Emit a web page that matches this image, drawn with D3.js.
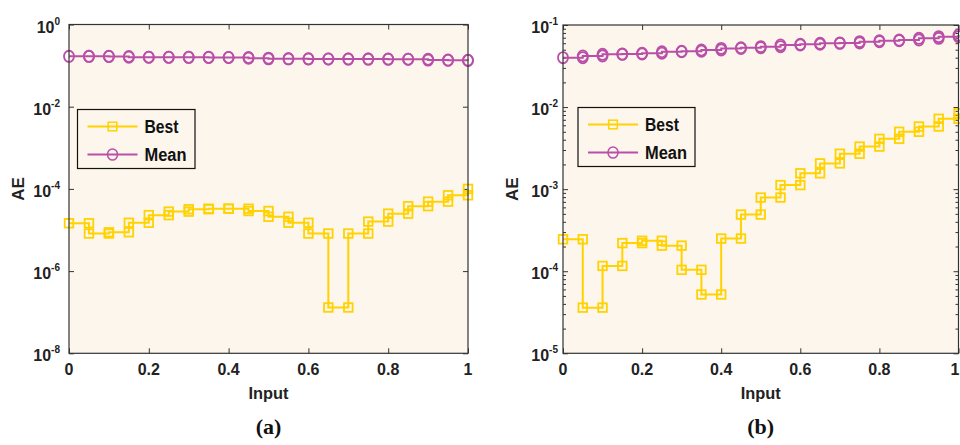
<!DOCTYPE html>
<html><head><meta charset="utf-8">
<script src="https://cdn.jsdelivr.net/npm/d3@7/dist/d3.min.js"></script>
<style>
html,body{margin:0;padding:0;background:#fff;}
svg{display:block;}
</style></head>
<body>
<svg id="chart" width="960" height="445"></svg>
<script>
// ---------- data ----------
const inputX = [0,0.05,0.1,0.15,0.2,0.25,0.3,0.35,0.4,0.45,0.5,0.55,0.6,0.65,0.7,0.75,0.8,0.85,0.9,0.95,1];
const bestA = [1.46e-5,8.2e-6,8.8e-6,1.5e-5,2.3e-5,2.8e-5,3.2e-5,3.3e-5,3.3e-5,2.9e-5,2.1e-5,1.5e-5,8.2e-6,1.3e-7,8.2e-6,1.6e-5,2.5e-5,3.8e-5,4.9e-5,7.0e-5,1.0e-4];
const meanA = [0.168,0.168,0.167,0.160,0.160,0.159,0.159,0.158,0.158,0.152,0.146,0.146,0.145,0.145,0.144,0.144,0.143,0.143,0.136,0.135,0.133];
const bestB = [2.45e-4,3.6e-5,1.16e-4,2.2e-4,2.35e-4,2.05e-4,1.04e-4,5.2e-5,2.5e-4,4.9e-4,7.9e-4,1.12e-3,1.56e-3,2.06e-3,2.7e-3,3.3e-3,4.1e-3,5.0e-3,5.8e-3,7.2e-3,8.4e-3];
const meanB = [0.0400,0.0419,0.0439,0.0443,0.0452,0.0473,0.0478,0.0496,0.0519,0.0529,0.0545,0.0571,0.0582,0.0598,0.0605,0.0627,0.0644,0.0656,0.0688,0.0721,0.0755];
const xTicks = [0,0.2,0.4,0.6,0.8,1];
const xTickLabels = ["0","0.2","0.4","0.6","0.8","1"];
const yTicksA = [1,1e-2,1e-4,1e-6,1e-8];
const yExpA = ["0","-2","-4","-6","-8"];
const yTicksB = [1e-1,1e-2,1e-3,1e-4,1e-5];
const yExpB = ["-1","-2","-3","-4","-5"];
const seriesNames = ["Best","Mean"];
const panelLabels = ["(a)","(b)"];

// ---------- style ----------
const C_BEST = "#FFD200", C_MEAN = "#B94FA9", BG = "#FDF6EC", FRAME = "#333";
const NARROW = "'Liberation Sans Narrow','Arial Narrow',sans-serif";
const SANS = "'Liberation Sans',Arial,sans-serif";
const SERIF = "'Liberation Serif','Times New Roman',serif";

const svg = d3.select("#chart");

function stepPts(xs, ys){
  const pts = [];
  xs.forEach((x,i)=>{
    if(i>0) pts.push([x, ys[i-1]]);
    pts.push([x, ys[i]]);
  });
  return pts;
}

function panel(cfg){
  const g = svg.append("g");
  const x = d3.scaleLinear().domain([0,1]).range([cfg.left, cfg.right]);
  const y = d3.scaleLog().domain(cfg.yDomain).range([cfg.bottom, cfg.top]);

  g.append("rect").attr("x",cfg.left).attr("y",cfg.top)
    .attr("width",cfg.right-cfg.left).attr("height",cfg.bottom-cfg.top)
    .attr("fill",BG);

  const styleAxis = sel => { sel.select(".domain").remove(); sel.selectAll("line").attr("stroke",FRAME).attr("stroke-width",1); sel.selectAll("text").remove(); };
  g.append("g").attr("transform",`translate(0,${cfg.bottom})`)
    .call(d3.axisBottom(x).tickValues(xTicks).tickSize(-5).tickFormat("")).call(styleAxis);
  g.append("g").attr("transform",`translate(0,${cfg.top})`)
    .call(d3.axisTop(x).tickValues(xTicks).tickSize(-5).tickFormat("")).call(styleAxis);
  g.append("g").attr("transform",`translate(${cfg.left},0)`)
    .call(d3.axisLeft(y).tickValues(cfg.yTicks).tickSize(-5).tickFormat("")).call(styleAxis);
  g.append("g").attr("transform",`translate(${cfg.right},0)`)
    .call(d3.axisRight(y).tickValues(cfg.yTicks).tickSize(-5).tickFormat("")).call(styleAxis);
  if(cfg.minor){
    const minors = y.ticks().filter(v => !cfg.yTicks.some(t => Math.abs(Math.log10(v)-Math.log10(t))<1e-6));
    g.append("g").attr("transform",`translate(${cfg.left},0)`)
      .call(d3.axisLeft(y).tickValues(minors).tickSize(-3).tickFormat("")).call(styleAxis);
    g.append("g").attr("transform",`translate(${cfg.right},0)`)
      .call(d3.axisRight(y).tickValues(minors).tickSize(-3).tickFormat("")).call(styleAxis);
  }

  // tick labels
  g.selectAll(".xl").data(xTicks).join("text")
    .attr("x",d=>Math.min(x(d), 955)).attr("y",cfg.bottom+22).attr("text-anchor","middle")
    .attr("font-family",SANS).attr("font-weight","bold").attr("font-size",16).attr("fill","#222")
    .text((d,i)=>xTickLabels[i]);
  const yl = g.selectAll(".yl").data(cfg.yTicks).join("text")
    .attr("x",cfg.left-cfg.labGap).attr("y",d=>y(d)+8).attr("text-anchor","end")
    .attr("font-family",SANS).attr("font-weight","bold").attr("font-size",16).attr("fill","#222");
  yl.append("tspan").text("10");
  yl.append("tspan").attr("dy",-8).attr("font-size",10).text((d,i)=>cfg.yExp[i]);

  // axis titles
  g.append("text").attr("x",(cfg.left+cfg.right)/2).attr("y",cfg.bottom+46).attr("text-anchor","middle")
    .attr("font-family",NARROW).attr("font-weight","bold").attr("font-size",17).attr("fill","#222")
    .attr("textLength",40).attr("lengthAdjust","spacingAndGlyphs").text("Input");
  g.append("text").attr("transform",`translate(${cfg.aeX},${(cfg.top+cfg.bottom)/2}) rotate(-90)`)
    .attr("text-anchor","middle").attr("font-family",NARROW).attr("font-weight","bold").attr("font-size",17)
    .attr("fill","#222").text("AE");
  g.append("text").attr("x",(cfg.left+cfg.right)/2).attr("y",434).attr("text-anchor","middle")
    .attr("font-family",SERIF).attr("font-weight","bold").attr("font-size",22).attr("fill","#111").text(cfg.label);

  // series
  const line = d3.line().x(d=>x(d[0])).y(d=>y(d[1]));
  const sg = g.append("g");
  const meanPts = stepPts(inputX, cfg.mean);
  const bestPts = stepPts(inputX, cfg.best);
  sg.append("path").datum(meanPts).attr("d",line).attr("fill","none").attr("stroke",C_MEAN).attr("stroke-width",2);
  sg.selectAll(".mc").data(meanPts).join("ellipse")
    .attr("cx",d=>x(d[0])).attr("cy",d=>y(d[1])).attr("rx",5).attr("ry",5.6)
    .attr("fill","none").attr("stroke",C_MEAN).attr("stroke-width",1.8);
  sg.append("path").datum(bestPts).attr("d",line).attr("fill","none").attr("stroke",C_BEST).attr("stroke-width",2);
  sg.selectAll(".bs").data(bestPts).join("rect")
    .attr("x",d=>x(d[0])-4.3).attr("y",d=>y(d[1])-4.3).attr("width",8.6).attr("height",8.6)
    .attr("fill","none").attr("stroke",C_BEST).attr("stroke-width",1.8);

  // frame
  g.append("rect").attr("x",cfg.left).attr("y",cfg.top)
    .attr("width",cfg.right-cfg.left).attr("height",cfg.bottom-cfg.top)
    .attr("fill","none").attr("stroke",FRAME).attr("stroke-width",1.2);

  // legend
  const L = cfg.legend;
  const lg = g.append("g");
  lg.append("rect").attr("x",L.x).attr("y",L.y).attr("width",L.w).attr("height",L.h)
    .attr("fill",BG).attr("stroke","#111").attr("stroke-width",1.2);
  const rows = [{name:seriesNames[0],c:C_BEST,m:"sq",dy:17,tl:34},{name:seriesNames[1],c:C_MEAN,m:"ci",dy:45,tl:42}];
  rows.forEach(r=>{
    const yy = L.y + r.dy;
    lg.append("line").attr("x1",L.x+10).attr("x2",L.x+60).attr("y1",yy).attr("y2",yy)
      .attr("stroke",r.c).attr("stroke-width",2);
    if(r.m==="sq") lg.append("rect").attr("x",L.x+35-4.3).attr("y",yy-4.3).attr("width",8.6).attr("height",8.6)
      .attr("fill","none").attr("stroke",r.c).attr("stroke-width",1.5);
    else lg.append("ellipse").attr("cx",L.x+35).attr("cy",yy).attr("rx",5).attr("ry",5.6)
      .attr("fill","none").attr("stroke",r.c).attr("stroke-width",1.5);
    lg.append("text").attr("x",L.x+67).attr("y",yy+6).attr("font-family",NARROW).attr("font-weight","bold")
      .attr("font-size",18).attr("fill","#111").attr("textLength",r.tl).attr("lengthAdjust","spacingAndGlyphs").text(r.name);
  });
}

panel({left:69,right:468,top:24.5,bottom:353.3,yDomain:[1e-8,1],yTicks:yTicksA,yExp:yExpA,
  best:bestA,mean:meanA,label:panelLabels[0],aeX:24,labGap:9,minor:false,
  legend:{x:77.5,y:109.5,w:117.5,h:59}});
panel({left:563,right:958.5,top:25,bottom:353.3,yDomain:[1e-5,1e-1],yTicks:yTicksB,yExp:yExpB,
  best:bestB,mean:meanB,label:panelLabels[1],aeX:518,labGap:5,minor:true,
  legend:{x:578,y:107.5,w:117,h:59}});
</script>
</body></html>
